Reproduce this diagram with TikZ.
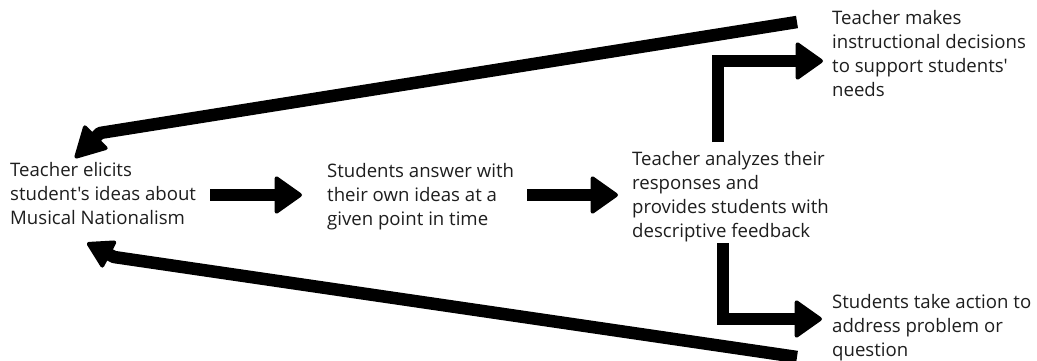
\documentclass[tikz,border=0pt]{standalone}
\usepackage{fontspec}
\setmainfont{Open Sans}[Ligatures=TeXOff]
\usetikzlibrary{arrows.meta}
\definecolor{ink}{HTML}{1E1E1E}
\begin{document}
\begin{tikzpicture}[x=1pt,y=-1pt,
  txt/.style={anchor=north west, inner sep=0pt, align=left, text=ink,
    font=\fontsize{18.6}{24}\selectfont},
  link/.style={line width=12.5pt, draw=black, line join=miter},
  bighead/.style={-{Triangle[length=29pt,width=40pt,line width=4pt,round]}},
]
\useasboundingbox[fill=white] (0,0) rectangle (1037,361);

% stages of the feedback loop
\node[txt] (elicit) at (10,162) {Teacher elicits\\student's ideas about\\Musical Nationalism};
\node[txt] (answer) at (327,163) {Students answer with\\their own ideas at a\\given point in time};
\node[txt] (analyze) at (632,151) {Teacher analyzes their\\responses and\\provides students with\\descriptive feedback};
\node[txt] (decide) at (832,10) {Teacher makes\\instructional decisions\\to support students'\\needs};
\node[txt] (act) at (832,294) {Students take action to\\address problem or\\question};

% connector end points
\coordinate (ab1) at (210,195); \coordinate (ab2) at (302,195);
\coordinate (bc1) at (527,195); \coordinate (bc2) at (618,195);
\coordinate (cd1) at (718,142); \coordinate (cd2) at (823,61);
\coordinate (ce1) at (723,243); \coordinate (ce2) at (822,319);
\coordinate (da1) at (797,22);  \coordinate (da2) at (100,133); \coordinate (da3) at (75,158);
\coordinate (ea1) at (797,357); \coordinate (ea2) at (114,257); \coordinate (ea3) at (87,243);

% forward flow
\draw[link, bighead] (ab1) -- (ab2);
\draw[link, bighead] (bc1) -- (bc2);
\draw[link, bighead] (cd1) |- (cd2);
\draw[link, bighead] (ce1) |- (ce2);

% return paths to the start
\draw[link, line join=round, -{Triangle[length=33pt,width=35pt,line width=4pt,round]}] (da1) -- (da2) -- (da3);
\draw[link, line join=round, -{Triangle[length=28pt,width=32pt,line width=4pt,round]}] (ea1) -- (ea2) -- (ea3);
\end{tikzpicture}
\end{document}
